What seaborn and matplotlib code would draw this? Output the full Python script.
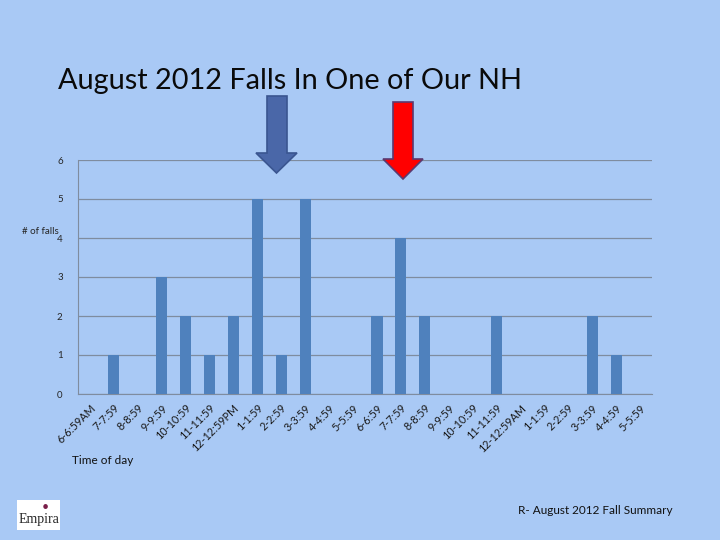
import matplotlib
matplotlib.use("Agg")
import matplotlib.pyplot as plt
from matplotlib.patches import Polygon, Rectangle
from matplotlib.transforms import ScaledTranslation
import seaborn as sns
import pandas as pd

time_slots = ["6-6:59AM", "7-7:59", "8-8:59", "9-9:59", "10-10:59", "11-11:59",
              "12-12:59PM", "1-1:59", "2-2:59", "3-3:59", "4-4:59", "5-5:59",
              "6-6:59", "7-7:59", "8-8:59", "9-9:59", "10-10:59", "11-11:59",
              "12-12:59AM", "1-1:59", "2-2:59", "3-3:59", "4-4:59", "5-5:59"]
falls = [0, 1, 0, 3, 2, 1, 2, 5, 1, 5, 0, 0, 2, 4, 2, 0, 0, 2, 0, 0, 0, 2, 1, 0]

bg = "#A9C9F5"
bar_color = "#4F81BD"
grid_color = "#7F8C9F"

sns.set_style("white")
plt.rcParams["font.family"] = ["Lato", "DejaVu Sans"]

df = pd.DataFrame({"slot": range(len(time_slots)), "falls": falls})

fig = plt.figure(figsize=(7.2, 5.4), dpi=100, facecolor=bg)
ax = fig.add_axes([78 / 720, 1 - 394 / 540, (652 - 78) / 720, (394 - 160) / 540])
ax.set_facecolor(bg)

sns.barplot(data=df, x="slot", y="falls", color=bar_color, width=0.47,
            saturation=1, linewidth=0, edgecolor=bar_color, ax=ax, zorder=3)

ax.set_ylim(0, 6)
ax.set_xlim(-0.5, len(time_slots) - 0.5)
ax.set_yticks(range(0, 7))
ax.yaxis.grid(True, color=grid_color, linewidth=0.9, zorder=0)
ax.set_axisbelow(True)
for s in ["top", "right"]:
    ax.spines[s].set_visible(False)
ax.spines["left"].set_color(grid_color)
ax.spines["bottom"].set_color(grid_color)

ax.set_xticks(range(len(time_slots)))
ax.set_xticklabels(time_slots, rotation=45, ha="right", rotation_mode="anchor",
                   fontsize=7.8, color="#1A1A1A")
# nudge rotated labels so their ends sit just right of the category centre
shift = ScaledTranslation(6 / 100, -3 / 100, fig.dpi_scale_trans)
for lab in ax.get_xticklabels():
    lab.set_transform(lab.get_transform() + shift)
ax.set_xticks([i - 0.5 for i in range(len(time_slots) + 1)], minor=True)
ax.tick_params(axis="x", which="major", length=0, pad=6)
ax.tick_params(axis="x", which="minor", length=4, color=grid_color, direction="out")
ax.tick_params(axis="y", length=3, color=grid_color, labelsize=7, pad=8)
ax.set_xlabel("")
ax.set_ylabel("")

fig.text(22 / 720, 1 - 232 / 540, "# of falls", fontsize=7, va="center", ha="left")
fig.text(72 / 720, 1 - 461 / 540, "Time of day", fontsize=8.5, va="center", ha="left",
         color="#111111")
fig.text(58 / 720, 1 - 81 / 540, "August 2012 Falls In One of Our NH", fontsize=20.8,
         va="center", ha="left", color="#0A0A0A")
fig.text(518 / 720, 1 - 511 / 540, "R- August 2012 Fall Summary", fontsize=8.5,
         va="center", ha="left", color="#111111")


def arrow(x0, x1, top, hx0, hx1, hy, tip, face, edge):
    pts = [(x0, top), (x1, top), (x1, hy), (hx1, hy), ((hx0 + hx1) / 2, tip),
           (hx0, hy), (x0, hy)]
    pts = [(px / 720, 1 - py / 540) for px, py in pts]
    fig.patches.append(Polygon(pts, closed=True, transform=fig.transFigure,
                               facecolor=face, edgecolor=edge, linewidth=1.2,
                               zorder=10))


arrow(267, 287, 96, 256, 297, 153, 173, "#4A67A8", "#3A5590")
arrow(393, 413, 102, 383, 423, 159, 179, "#FF0000", "#5A3A70")

# logo box
fig.patches.append(Rectangle((17 / 720, 1 - 530 / 540), 43 / 720, 30 / 540,
                             transform=fig.transFigure, facecolor="white",
                             edgecolor="none", zorder=5))
fig.text(38.5 / 720, 1 - 519 / 540, "Empira", fontsize=10, family="Liberation Serif",
         ha="center", va="center", zorder=6)
fig.text(45 / 720, 1 - 507 / 540, "\u2022", fontsize=9, color="#7A1F4A",
         ha="center", va="center", zorder=6)

fig.savefig("out.png", dpi=100, facecolor=bg)
